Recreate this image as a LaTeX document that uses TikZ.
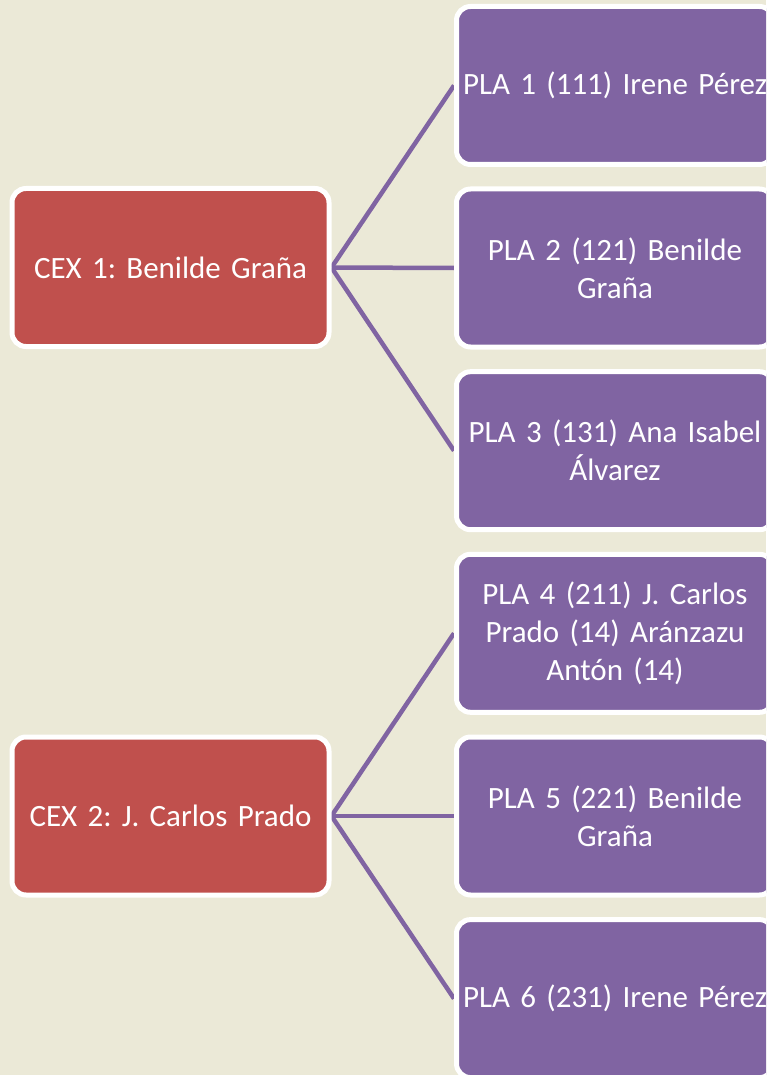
\documentclass[tikz,border=0pt]{standalone}
\usepackage{fontspec}
\setmainfont{Carlito}
\usetikzlibrary{backgrounds}
\definecolor{bg}{HTML}{EBE9D7}
\definecolor{cexred}{HTML}{C0504D}
\definecolor{plapurple}{HTML}{8064A2}
\begin{document}
\frenchspacing
\begin{tikzpicture}[x=1pt,y=-1pt,
  box/.style={draw=white, line width=5pt, rounded corners=14pt, minimum width=317pt, minimum height=158pt, text width=312pt, align=center, text=white, font=\fontsize{31}{38}\selectfont\frenchspacing, inner sep=0pt},
  cex/.style={box, fill=cexred},
  pla/.style={box, fill=plapurple},
  link/.style={draw=plapurple, line width=4.5pt}]
\useasboundingbox (0,0) rectangle (766,1075);
\clip (0,0) rectangle (766,1075);
\node[cex] (c1) at (170.5,267.5) {CEX 1: Benilde Graña};
\node[cex] (c2) at (170.5,816) {CEX 2: J. Carlos Prado};
\node[pla] (p1) at (615,85.5) {PLA 1 (111) Irene Pérez};
\node[pla] (p2) at (615,268) {PLA 2 (121) Benilde\\Graña};
\node[pla] (p3) at (615,450.7) {PLA 3 (131) Ana Isabel\\Álvarez};
\node[pla] (p4) at (615,633.3) {PLA 4 (211) J. Carlos\\Prado (14) Aránzazu\\Antón (14)};
\node[pla] (p5) at (615,816) {PLA 5 (221) Benilde\\Graña};
\node[pla] (p6) at (615,998.6) {PLA 6 (231) Irene Pérez};
\begin{scope}[on background layer]
\fill[bg] (0,0) rectangle (766,1075);
\draw[link] (c1.east) -- (p1.west);
\draw[link] (c1.east) -- (p2.west);
\draw[link] (c1.east) -- (p3.west);
\draw[link] (c2.east) -- (p4.west);
\draw[link] (c2.east) -- (p5.west);
\draw[link] (c2.east) -- (p6.west);
\end{scope}
\end{tikzpicture}
\end{document}
